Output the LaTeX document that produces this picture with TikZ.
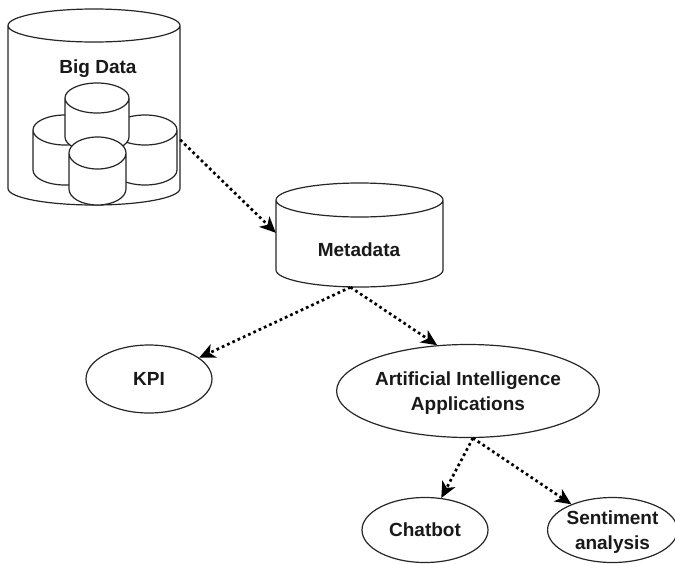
\documentclass[tikz,border=0pt]{standalone}
\usepackage{fontspec}
\setmainfont{Liberation Sans}
\usetikzlibrary{shapes.geometric,arrows.meta,calc}
\tikzset{
  cylline/.style={draw=black!85, line width=1.2pt, fill=white},
  cylnode/.style={rectangle, inner sep=0pt, draw=none},
  oval/.style={ellipse, draw=black!85, line width=1.2pt, fill=white, inner sep=0pt,
    align=center, font=\bfseries\fontsize{19}{25}\selectfont, text=black!90},
  lbl/.style={font=\bfseries\fontsize{19}{25}\selectfont, inner sep=0pt, text=black!90},
  arr/.style={black, line width=2.7pt, dash pattern=on 2.7pt off 3.1pt,
    -{Stealth[length=16pt,width=14.5pt,inset=4.5pt]}},
}
% name, x1, y1, x2, y2, ry
\newcommand\mycyl[6]{%
  \pgfmathsetmacro\mycylcx{(#2+#4)/2}%
  \pgfmathsetmacro\mycylcy{(#3+#5)/2}%
  \pgfmathsetmacro\mycylrx{(#4-#2)/2}%
  \pgfmathsetmacro\mycylw{#4-#2}%
  \pgfmathsetmacro\mycylh{#5-#3}%
  \draw[cylline] (#2,#3+#6) -- (#2,#5-#6)
    arc[start angle=180,end angle=360,x radius=\mycylrx pt,y radius=#6pt]
    -- (#4,#3+#6)
    arc[start angle=0,end angle=180,x radius=\mycylrx pt,y radius=#6pt] -- cycle
    (#2,#3+#6) arc[start angle=180,end angle=360,x radius=\mycylrx pt,y radius=#6pt];
  \node[cylnode, minimum width=\mycylw pt, minimum height=\mycylh pt] (#1) at (\mycylcx,\mycylcy) {};
}
\begin{document}
\begin{tikzpicture}[x=1pt,y=-1pt]
\useasboundingbox (0,0) rectangle (675,563);

% Big Data store
\mycyl{bigdata}{8}{9}{180}{205}{16.5}
\node[lbl, anchor=base] (bigdatatxt) at (98,73) {Big Data};
\mycyl{cylleft}{33}{115}{97}{185}{15}
\mycyl{cylright}{113}{115}{177}{185}{15}
\mycyl{cyltop}{65}{83}{129}{152}{15}
\mycyl{cylfront}{69}{137}{126}{205}{16}

% Metadata
\mycyl{metadata}{276}{183}{443}{287}{17}
\node[lbl, anchor=base] (metadatatxt) at (359,256) {Metadata};

% Ovals
\node[oval, minimum width=126pt, minimum height=68pt] (kpi) at (149,379) {KPI};
\node[oval, minimum width=237pt, minimum height=93pt, text depth=0pt] (ai) at (468,391) {Artificial Intelligence\\Applications};
\node[oval, minimum width=126pt, minimum height=65pt] (chatbot) at (425,530) {Chatbot};
\node[oval, minimum width=116pt, minimum height=65pt, text depth=0pt] (senti) at (612.5,530) {Sentiment\\analysis};

% Connectors
\draw[arr] ($(bigdata.north east)+(0,131)$) -- ($(metadata.north west)+(0,50)$);
\draw[arr] ($(metadata.south)+(-9,0)$) -- (kpi.23);
\draw[arr] ($(metadata.south)+(-9,0)$) -- (ai.124);
\draw[arr] (ai.-84) -- (chatbot.63);
\draw[arr] (ai.-84) -- (senti.148);
\end{tikzpicture}
\end{document}
